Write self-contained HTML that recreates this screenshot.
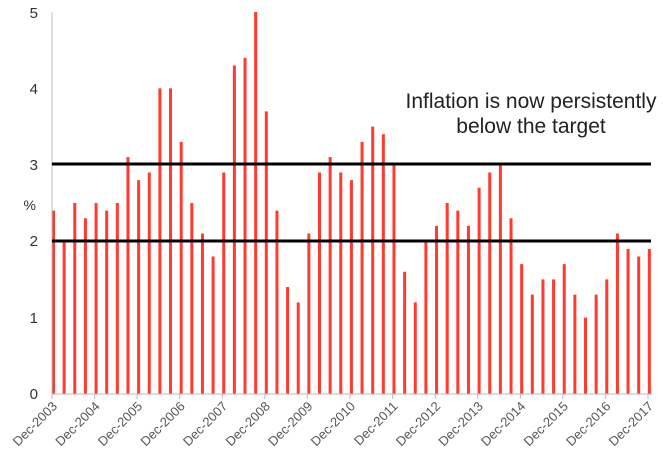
<!DOCTYPE html>
<html><head><meta charset="utf-8"><style>
html,body{margin:0;padding:0;background:#fff;}
svg{display:block;font-family:"Liberation Sans",sans-serif;}
</style></head><body>
<svg width="663" height="461" viewBox="0 0 663 461" xmlns="http://www.w3.org/2000/svg">
<g id="bars" stroke="#ff3a2e" stroke-width="3"></g>
<line x1="52" y1="12" x2="52" y2="394" stroke="#bbb" stroke-width="1"/>
<line x1="52" y1="394" x2="652" y2="394" stroke="#bbb" stroke-width="1"/>
<g id="ticks" stroke="#bbb" stroke-width="1"></g>
<line x1="52" y1="241" x2="651" y2="241" stroke="#000" stroke-width="3"/>
<line x1="52" y1="164" x2="651" y2="164" stroke="#000" stroke-width="3"/>
<g font-size="15" fill="#333" text-anchor="end">
<text x="38" y="399">0</text>
<text x="38" y="323">1</text>
<text x="38" y="246">2</text>
<text x="38" y="170">3</text>
<text x="38" y="94">4</text>
<text x="38" y="18">5</text>
<text x="36" y="210" font-size="14">%</text>
</g>
<g id="xl" font-size="13" fill="#555" text-anchor="end"></g>
<g font-size="21" fill="#222" text-anchor="middle">
<text x="531" y="108">Inflation is now persistently</text>
<text x="531" y="133">below the target</text>
</g>
<script>
var v=[2.4,2.0,2.5,2.3,2.5,2.4,2.5,3.1,2.8,2.9,4.0,4.0,3.3,2.5,2.1,1.8,2.9,4.3,4.4,5.0,3.7,2.4,1.4,1.2,2.1,2.9,3.1,2.9,2.8,3.3,3.5,3.4,3.0,1.6,1.2,2.0,2.2,2.5,2.4,2.2,2.7,2.9,3.0,2.3,1.7,1.3,1.5,1.5,1.7,1.3,1.0,1.3,1.5,2.1,1.9,1.8,1.9];
var ns="http://www.w3.org/2000/svg",b=document.getElementById("bars"),t=document.getElementById("ticks"),xl=document.getElementById("xl");
v.forEach(function(d,i){var x=53.5+i*10.64;var l=document.createElementNS(ns,"line");l.setAttribute("x1",x);l.setAttribute("x2",x);l.setAttribute("y1",394);l.setAttribute("y2",394-d*76.4);b.appendChild(l);});
for(var k=0;k<15;k++){var x=52+k*42.57;var l=document.createElementNS(ns,"line");l.setAttribute("x1",x);l.setAttribute("x2",x);l.setAttribute("y1",394);l.setAttribute("y2",399);t.appendChild(l);
var tx=document.createElementNS(ns,"text");var ax=x+6,ay=407;tx.setAttribute("x",ax);tx.setAttribute("y",ay);tx.setAttribute("transform","rotate(-45 "+ax+" "+ay+")");tx.textContent="Dec-"+(2003+k);xl.appendChild(tx);}
</script>
</svg>
</body></html>
